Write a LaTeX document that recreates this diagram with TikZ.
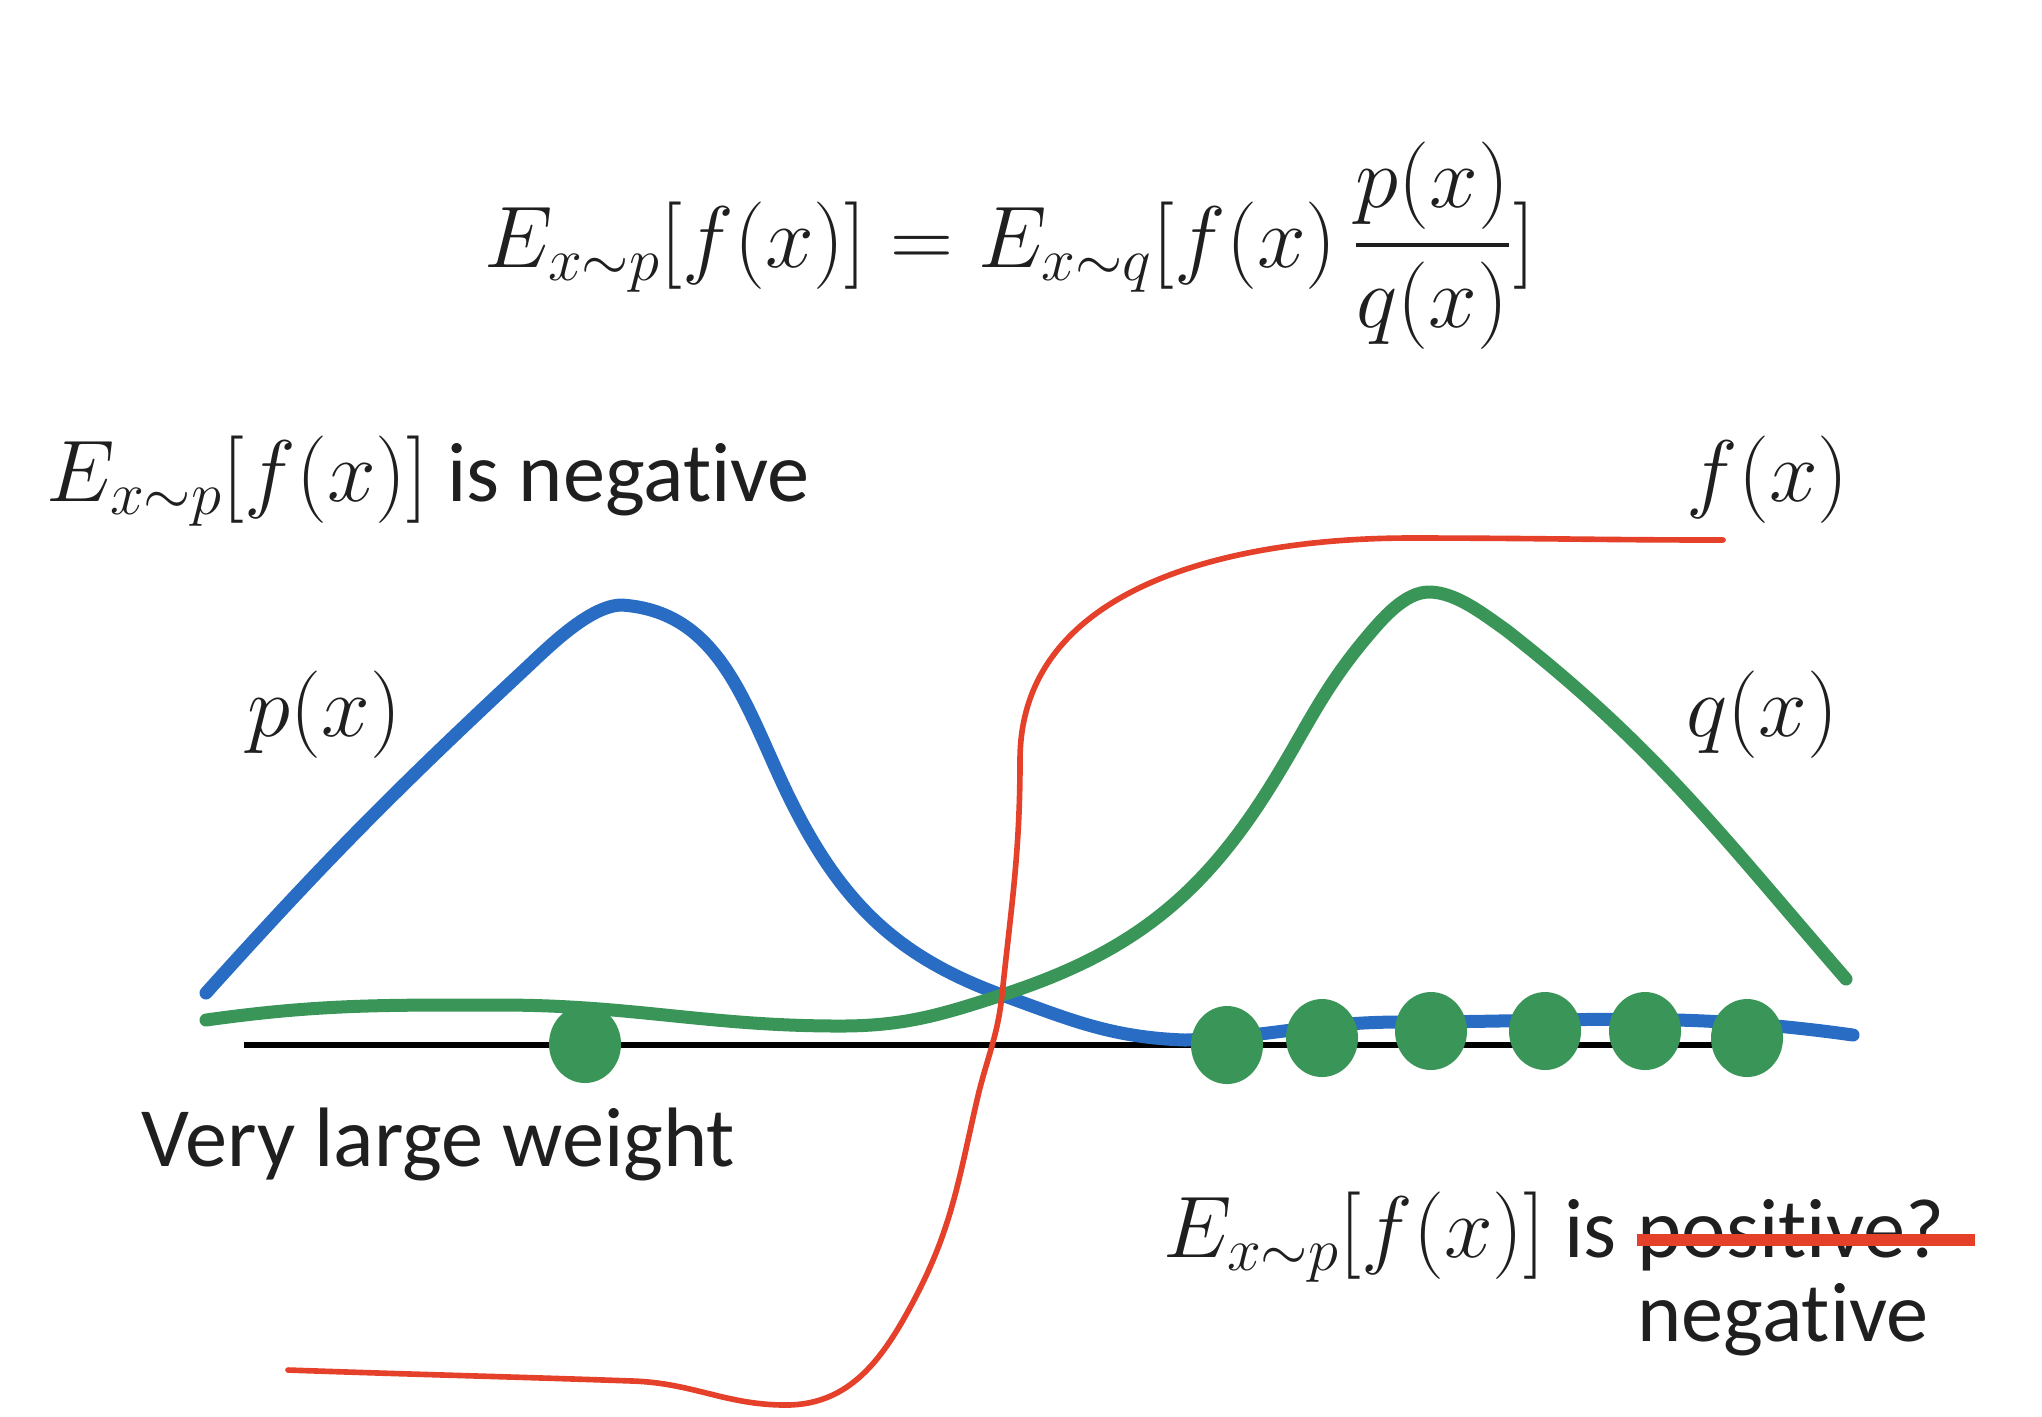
\documentclass[tikz,border=0pt]{standalone}
\usepackage{amsmath}
\usepackage{fontspec}
\setmainfont{Carlito}[Ligatures=NoCommon]
\usetikzlibrary{positioning}

\definecolor{pblue}{RGB}{40,108,196}
\definecolor{qgreen}{RGB}{58,150,88}
\definecolor{fred}{RGB}{228,64,42}

\tikzset{
	lab/.style={inner sep=0pt, text=black!88, font=\fontsize{24}{29}\selectfont},
	pline/.style={draw=pblue, line width=3.7pt, line cap=round},
	qline/.style={draw=qgreen, line width=3.7pt, line cap=round},
	fline/.style={draw=fred, line width=1.6pt, line cap=round},
	strike/.style={draw=fred, line width=3.2pt},
	sample/.style={fill=qgreen}
}

\begin{document}
\begin{tikzpicture}
	\useasboundingbox (0,0) rectangle (20.42,-14.16);
	% formula and labels
	\node [lab, font=\fontsize{25}{30}\selectfont, anchor=base west] (eq) at (4.84,-2.67)
		{$E_{x\sim p}[f(x)] = E_{x\sim q}[f(x)\,\dfrac{p(x)}{q(x)}]$};
	\node [lab, anchor=base west] (lhsneg) at (0.46,-5.01) {$E_{x\sim p}[f(x)]$ is negative};
	\node [lab, anchor=base west] (flab) at (16.86,-5.01) {$f(x)$};
	\node [lab, anchor=base west] (plab) at (2.47,-7.36) {$p(x)$};
	\node [lab, anchor=base west] (qlab) at (16.86,-7.36) {$q(x)$};
	\node [lab, anchor=base west] (weightlab) at (1.41,-11.66) {Very large weight};
	\node [lab, anchor=base west] (rhsis) at (11.63,-12.57) {$E_{x\sim p}[f(x)]$ is};
	\node [lab, anchor=base west] (rhspos) at ([xshift=5.5pt]rhsis.base east) {positive?};
	\node [lab, below=0.84cm of rhspos.base west, anchor=base west] (rhsneg) {negative};
	\draw [strike] ([yshift=0.17cm]rhspos.base west) -- ([xshift=0.3cm,yshift=0.17cm]rhspos.base east);

	% axis
	\coordinate (axL) at (2.44,-10.45);
	\coordinate (axR) at (17.45,-10.45);
	\draw [line width=1.7pt] (axL) -- (axR);

	% p(x)
	\draw [pline] (2.06,-9.93) to [out=48,in=-137] (5.24,-6.70)
		to [out=43,in=180,looseness=0.7] (6.22,-6.05)
		to [out=-4,in=117] (7.94,-8.07) to [out=-63,in=160] (10.02,-9.95)
		to [out=-20,in=178] (11.85,-10.40)
		to [out=2,in=180] (14.0,-10.22) to [out=0,in=172] (18.53,-10.35);

	% q(x)
	\draw [qline] (2.06,-10.20) to [out=8,in=180] (5.0,-10.05)
		to [out=0,in=180] (8.40,-10.26) to [out=0,in=-162] (10.02,-9.95)
		to [out=18,in=-122] (12.70,-7.87)
		to [out=58,in=-130] (13.66,-6.38) to [out=50,in=180,looseness=0.8] (14.29,-5.92)
		to [out=0,in=145,looseness=0.8] (15.06,-6.30)
		to [out=-38,in=131] (18.46,-9.79);

	% f(x)
	\draw [fline] (2.88,-13.70) to [out=-2,in=178] (6.33,-13.81)
		to [out=-2,in=180] (7.86,-14.05) to [out=0,in=-118] (9.13,-13.02)
		to [out=62,in=-103] (9.77,-11.00) to [out=77,in=-96] (10.02,-9.95)
		to [out=84,in=-90] (10.20,-7.60) to [out=90,in=180] (14.10,-5.38)
		to [out=0,in=180] (17.23,-5.40);

	% samples
	\fill [sample] (5.85,-10.44) ellipse [x radius=0.36, y radius=0.39];
	\foreach \sx/\sy in {12.27/10.45, 13.22/10.38, 14.31/10.31, 15.45/10.31, 16.45/10.31, 17.47/10.38}
		\fill [sample] (\sx,-\sy) ellipse [x radius=0.36, y radius=0.39];
\end{tikzpicture}
\end{document}
